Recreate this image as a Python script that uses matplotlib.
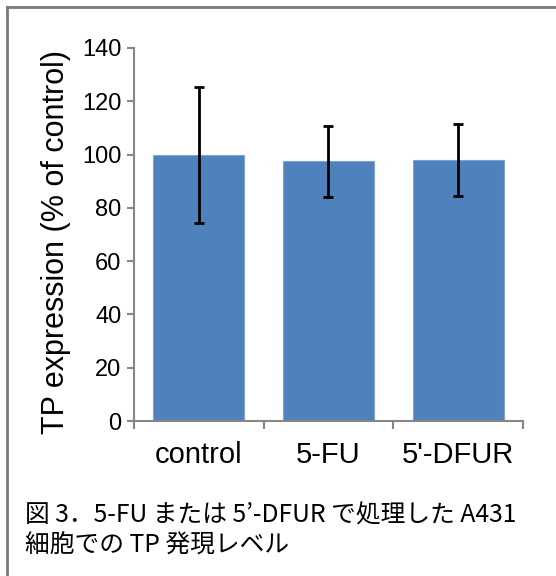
import matplotlib
matplotlib.use("Agg")
import matplotlib.pyplot as plt
from matplotlib.lines import Line2D

categories = ["control", "5-FU", "5'-DFUR"]
values = [100.0, 97.5, 98.0]
errors = [25.5, 13.4, 13.4]
yticks = [0, 20, 40, 60, 80, 100, 120, 140]
ylabel = "TP expression (% of control)"
caption = ["図 3．5-FU または 5’-DFUR で処理した A431", "細胞での TP 発現レベル"]

plt.rcParams["font.family"] = ["Liberation Sans", "DejaVu Sans"]

fig = plt.figure(figsize=(5.56, 5.76), dpi=100)
ax = fig.add_axes([0.241, 0.269, 0.6996, 0.6477])

x = list(range(len(categories)))
ax.bar(x, values, width=0.70, color="#4F81BD", edgecolor="#7FA3D3", linewidth=0.8, zorder=2)
ax.errorbar(x, values, yerr=errors, fmt="none", ecolor="black", elinewidth=2,
            capsize=3.5, capthick=2, zorder=3)

ax.set_xlim(-0.5, len(categories) - 0.5)
ax.set_ylim(0, 140)
ax.set_yticks(yticks)
ax.set_yticklabels([str(t) for t in yticks], fontsize=17)
ax.set_xticks(x)
ax.set_xticklabels(categories, fontsize=21)
ax.tick_params(axis="x", length=0, pad=14)
ax.tick_params(axis="y", length=5, width=1.5, color="#868686", pad=4)
# category boundary ticks on the x axis
ax.set_xticks([i - 0.5 for i in range(len(categories) + 1)], minor=True)
ax.tick_params(axis="x", which="minor", length=6, width=1.5, color="#868686")
ax.set_ylabel(ylabel, fontsize=22)
ax.yaxis.set_label_coords(-0.163, 0.48)

for side in ["top", "right"]:
    ax.spines[side].set_visible(False)
for side in ["left", "bottom"]:
    ax.spines[side].set_color("#868686")
    ax.spines[side].set_linewidth(1.5)

# outer frame (top and left edges)
fig.add_artist(Line2D([7 / 556, 1.0], [1 - 7 / 576, 1 - 7 / 576], transform=fig.transFigure,
                      color="#7a7a7a", linewidth=2))
fig.add_artist(Line2D([7 / 556, 7 / 556], [0.0, 1 - 7 / 576], transform=fig.transFigure,
                      color="#7a7a7a", linewidth=2))

cap_font = ["Noto Sans CJK JP", "DejaVu Sans"]
fig.text(25 / 556, 1 - 522 / 576, caption[0], fontsize=17.8, family=cap_font, va="baseline")
fig.text(25 / 556, 1 - 553 / 576, caption[1], fontsize=17.8, family=cap_font, va="baseline")

fig.savefig("out.png", dpi=100, facecolor="white")
